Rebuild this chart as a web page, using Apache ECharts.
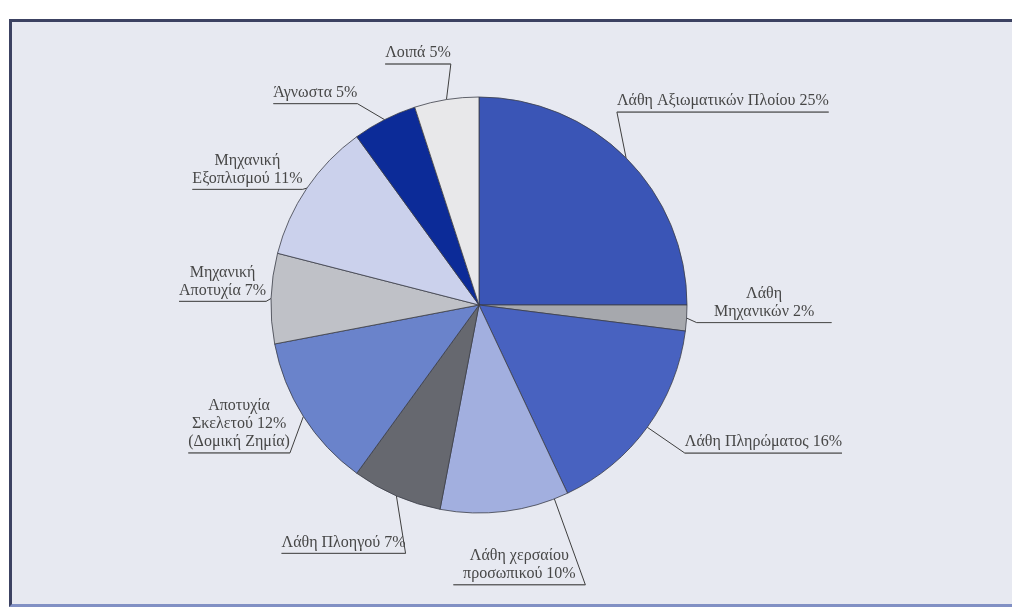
<!DOCTYPE html>
<html>
<head>
<meta charset="utf-8">
<script src="https://cdn.jsdelivr.net/npm/echarts@6/dist/echarts.min.js"></script>
<style>
  html, body { margin: 0; padding: 0; background: #ffffff; width: 1012px; height: 608px; overflow: hidden; }
  #frame {
    position: absolute; left: 9px; top: 19px; width: 1003px; height: 588px; box-sizing: border-box;
    border-top: 3px solid #3c4262; border-left: 3px solid #3c4262; border-bottom: 3px solid #8190c4;
    background: #e7e9f1;
  }
  #chart { position: absolute; left: 0; top: 0; width: 1012px; height: 608px; }
</style>
</head>
<body>
<div id="frame"></div>
<div id="chart"></div>
<script>
// Causes of ship accidents, share of cases (%)
const categories = [
  'Λάθη Αξιωματικών Πλοίου',
  'Λάθη Μηχανικών',
  'Λάθη Πληρώματος',
  'Λάθη χερσαίου προσωπικού',
  'Λάθη Πλοηγού',
  'Αποτυχία Σκελετού (Δομική Ζημία)',
  'Μηχανική Αποτυχία',
  'Μηχανική Εξοπλισμού',
  'Άγνωστα',
  'Λοιπά'
];
const shares = [25, 2, 16, 10, 7, 12, 7, 11, 5, 5];

// Label text; %v is replaced by the slice value
const labelTemplates = [
  'Λάθη Αξιωματικών Πλοίου %v',
  'Λάθη\nΜηχανικών %v',
  'Λάθη Πληρώματος %v',
  'Λάθη χερσαίου\nπροσωπικού %v',
  'Λάθη Πλοηγού %v',
  'Αποτυχία\nΣκελετού %v\n(Δομική Ζημία)',
  'Μηχανική\nΑποτυχία %v',
  'Μηχανική\nΕξοπλισμού %v',
  'Άγνωστα %v',
  'Λοιπά %v'
];

// Styling
const PIE_CENTER = [479, 305];
const PIE_RADIUS = 208;
const sliceColors = [
  '#3a55b6', '#a6a8ad', '#4862c0', '#a2afdf', '#66686f',
  '#6a83cb', '#bfc1c7', '#cbd1ec', '#0c2b98', '#e8e8ea'
];
// leader line [radial length, horizontal length]
const leaderLengths = [
  [62, 2], [8, 2], [44, 2], [74, 75], [55, 2],
  [55, 2], [3, 2], [3, 2], [18, 15], [36, 2]
];
// where the leader touches the slice edge, as a fraction of the slice arc
const leaderAnchors = [0.5, 0.5, 0.5, 0.11, 0.5, 0.5, 0.5, 0.5, 0.5, 0.5];
// extra shift of each label (and its leader end) [dx, dy]
const labelOffsets = [
  [-55, -2], [0, 4], [0, 0], [-4, 0], [33, 7],
  [35, 7], [0, 3], [0, 3], [-4, 0], [12, 0]
];
// fixed underline widths (0 = width of the text)
const underlineWidths = [0, 135, 0, 132, 0, 0, 0, 0, 0, 0];
// labels written before the end of their leader line
const labelsBeforeLine = ['Λάθη χερσαίου προσωπικού'];

const FONT = '"Liberation Serif", "DejaVu Serif", serif';
const total = shares.reduce((a, b) => a + b, 0);

const chart = echarts.init(document.getElementById('chart'), null, { renderer: 'canvas' });

const data = categories.map((name, i) => {
  const item = {
    name: name,
    value: shares[i],
    itemStyle: { color: sliceColors[i] },
    labelLine: { length: leaderLengths[i][0], length2: leaderLengths[i][1] }
  };
  if (underlineWidths[i]) item.label = { width: underlineWidths[i] };
  return item;
});

// rotate a point on the rim about the pie centre (clockwise on screen for positive angles)
function rotateOnRim(pt, angle) {
  const x = pt[0] - PIE_CENTER[0], y = pt[1] - PIE_CENTER[1];
  const c = Math.cos(angle), s = Math.sin(angle);
  return [PIE_CENTER[0] + x * c - y * s, PIE_CENTER[1] + x * s + y * c];
}

chart.setOption({
  backgroundColor: 'transparent',
  animation: false,
  series: [{
    type: 'pie',
    center: PIE_CENTER,
    radius: PIE_RADIUS,
    startAngle: 90,
    clockwise: true,
    avoidLabelOverlap: false,
    silent: true,
    itemStyle: { borderColor: '#3b3d48', borderWidth: 0.8 },
    label: {
      show: true,
      position: 'outside',
      distanceToLabelLine: 0,
      overflow: 'none',
      fontFamily: FONT,
      formatter: function (p) {
        const lines = labelTemplates[p.dataIndex].replace('%v', p.value + '%').split('\n');
        return lines.map(l => '{t|' + l + '}').join('\n') + '\n{hr|}' + '\n{s|}'.repeat(lines.length);
      },
      rich: {
        t: { fontFamily: FONT, fontSize: 16, lineHeight: 18, color: '#474747', align: 'center' },
        hr: { width: '100%', height: 0, lineHeight: 4, borderColor: '#4a4a4a', borderWidth: 0.8 },
        s: { height: 18, lineHeight: 18 }
      }
    },
    labelLine: {
      show: true,
      smooth: false,
      lineStyle: { color: '#3e3e3e', width: 1 }
    },
    labelLayout: function (params) {
      const i = params.dataIndex;
      const res = {};
      if (labelsBeforeLine.indexOf(categories[i]) >= 0) res.align = 'right';
      const pts = params.labelLinePoints;
      if (pts && pts.length === 3) {
        const off = labelOffsets[i];
        const end = [pts[2][0] + off[0], pts[2][1] + off[1]];
        const sweep = shares[i] / total * Math.PI * 2;
        const start = rotateOnRim(pts[0], (leaderAnchors[i] - 0.5) * sweep);
        res.dx = off[0];
        res.dy = off[1];
        res.labelLinePoints = [start, end, end];
      }
      return res;
    },
    data: data
  }]
});
</script>
</body>
</html>
